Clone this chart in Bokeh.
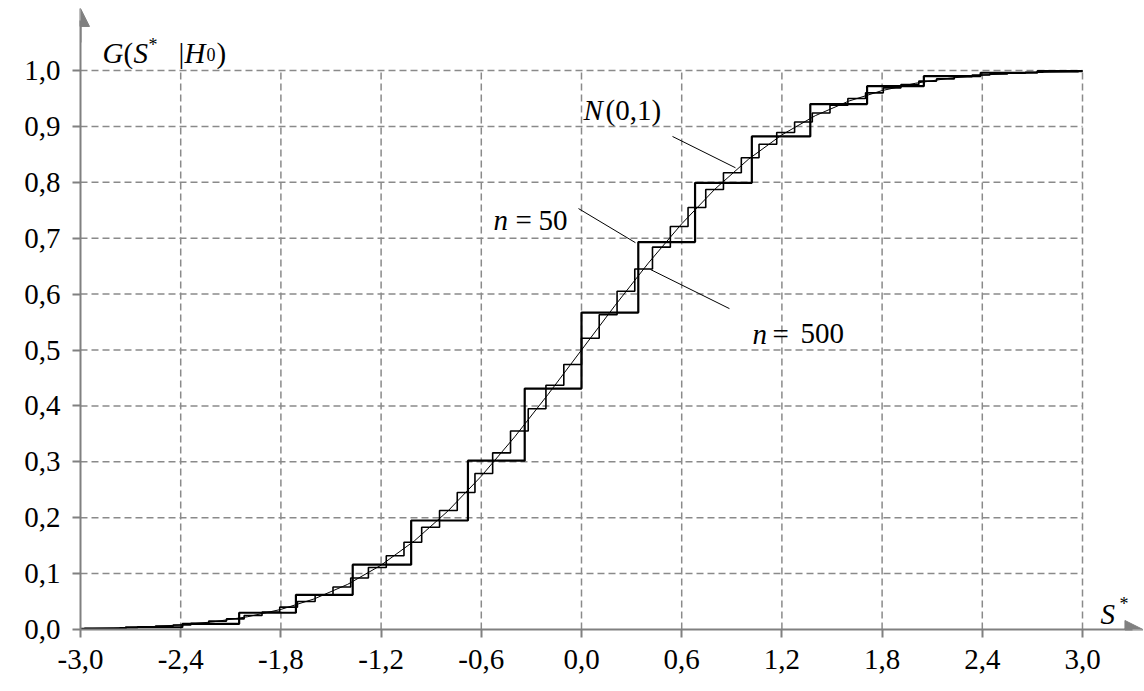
from bokeh.plotting import figure
from bokeh.models import Range1d, FixedTicker, CustomJSTickFormatter, Arrow, NormalHead
from bokeh.core.properties import value
from bokeh.embed import file_html
from bokeh.resources import INLINE

# ---------------- data ----------------
x_ticks = [-3.0, -2.4, -1.8, -1.2, -0.6, 0.0, 0.6, 1.2, 1.8, 2.4, 3.0]
y_ticks = [0.0, 0.1, 0.2, 0.3, 0.4, 0.5, 0.6, 0.7, 0.8, 0.9, 1.0]

# standard normal CDF N(0,1)
normal_x = [-3.0, -2.8, -2.6, -2.4, -2.2, -2.0, -1.8, -1.6, -1.4, -1.2, -1.0,
            -0.8, -0.6, -0.4, -0.2, 0.0, 0.2, 0.4, 0.6, 0.8, 1.0,
            1.2, 1.4, 1.6, 1.8, 2.0, 2.2, 2.4, 2.6, 2.8, 3.0]
normal_G = [0.0013, 0.0026, 0.0047, 0.0082, 0.0139, 0.0228, 0.0359, 0.0548, 0.0808, 0.1151, 0.1587,
            0.2119, 0.2743, 0.3446, 0.4207, 0.5000, 0.5793, 0.6554, 0.7257, 0.7881, 0.8413,
            0.8849, 0.9192, 0.9452, 0.9641, 0.9772, 0.9861, 0.9918, 0.9953, 0.9974, 0.9987]

# empirical distribution, n = 50 (jump positions and level after each jump)
n50_start = 0.001
n50_steps = [-2.73, -2.39, -2.05, -1.71, -1.37, -1.02, -0.68, -0.34, 0.0,
             0.34, 0.68, 1.02, 1.37, 1.71, 2.05, 2.39, 2.73]
n50_levels = [0.004, 0.010, 0.030, 0.062, 0.116, 0.195, 0.302, 0.431, 0.567,
              0.693, 0.799, 0.882, 0.940, 0.972, 0.990, 0.996, 0.999]

# empirical distribution, n = 500
n500_start = 0.001
n500_steps = [-2.976, -2.870, -2.764, -2.658, -2.551, -2.445, -2.339, -2.232, -2.126, -2.020,
              -1.913, -1.807, -1.701, -1.595, -1.488, -1.382, -1.276, -1.169, -1.063, -0.957,
              -0.850, -0.744, -0.638, -0.532, -0.425, -0.319, -0.213, -0.106, 0.0,
              0.106, 0.213, 0.319, 0.425, 0.532, 0.638, 0.744, 0.850, 0.957, 1.063,
              1.169, 1.276, 1.382, 1.488, 1.595, 1.701, 1.807, 1.913, 2.020, 2.126,
              2.232, 2.339, 2.445, 2.551, 2.658, 2.764, 2.870, 2.976]
n500_levels = [0.002, 0.002, 0.003, 0.005, 0.006, 0.008, 0.011, 0.015, 0.019, 0.025,
               0.031, 0.040, 0.050, 0.062, 0.076, 0.092, 0.111, 0.132, 0.156, 0.183,
               0.213, 0.245, 0.279, 0.316, 0.355, 0.395, 0.437, 0.474, 0.521,
               0.563, 0.605, 0.645, 0.684, 0.721, 0.755, 0.787, 0.817, 0.844, 0.868,
               0.889, 0.908, 0.924, 0.938, 0.950, 0.960, 0.969, 0.975, 0.981, 0.985,
               0.989, 0.992, 0.994, 0.995, 0.997, 0.998, 0.998, 0.999]

# ---------------- layout ----------------
W, H = 1144, 691
LEFT, BOTTOM = 80, 62
PX_X = 167.0   # pixels per unit of S*
PX_Y = 559.0   # pixels per unit of G
x_end = x_ticks[0] + (W - LEFT) / PX_X
y_end = (H - BOTTOM) / PX_Y

FONT_NAME = "Liberation Serif"
FONT = value(FONT_NAME)
GREY = "#808080"
GRID = "#8a8a8a"

p = figure(width=W, height=H, x_range=Range1d(x_ticks[0], x_end), y_range=Range1d(0, y_end),
           output_backend="svg", toolbar_location=None,
           min_border_left=LEFT, min_border_right=0, min_border_top=0, min_border_bottom=BOTTOM,
           background_fill_color="white", border_fill_color="white", outline_line_color=None)
p.xgrid.visible = False
p.ygrid.visible = False

fmt = CustomJSTickFormatter(code="return tick.toFixed(1).replace('.', ',');")
for ax, ticks in ((p.xaxis[0], x_ticks), (p.yaxis[0], y_ticks)):
    ax.ticker = FixedTicker(ticks=ticks)
    ax.formatter = fmt
    ax.axis_line_color = GREY
    ax.axis_line_width = 2
    ax.major_tick_line_color = GREY
    ax.major_tick_line_width = 2
    ax.major_tick_out = 8
    ax.major_tick_in = 0
    ax.minor_tick_line_color = None
    ax.major_label_text_font = FONT_NAME
    ax.major_label_text_font_size = "29px"
    ax.major_label_text_color = "black"
p.xaxis[0].major_label_standoff = 12
p.yaxis[0].major_label_standoff = 12
p.xaxis[0].bounds = (x_ticks[0], 3.30)
p.yaxis[0].bounds = (0, 1.09)

# dashed grid limited to the data area
p.segment(x0=x_ticks[1:], y0=[y_ticks[0]] * (len(x_ticks) - 1),
          x1=x_ticks[1:], y1=[y_ticks[-1]] * (len(x_ticks) - 1),
          line_color=GRID, line_width=1.5, line_dash="7 4")
p.segment(x0=[x_ticks[0]] * (len(y_ticks) - 1), y0=y_ticks[1:],
          x1=[x_ticks[-1]] * (len(y_ticks) - 1), y1=y_ticks[1:],
          line_color=GRID, line_width=1.5, line_dash="7 4")

# axis arrow heads
p.add_layout(Arrow(end=NormalHead(size=18, fill_color=GREY, line_color=GREY, line_width=1),
                   x_start=x_ticks[0], y_start=1.05, x_end=x_ticks[0], y_end=1.111,
                   line_color=GREY, line_width=2))
p.add_layout(Arrow(end=NormalHead(size=18, fill_color=GREY, line_color=GREY, line_width=1),
                   x_start=3.25, y_start=0, x_end=3.362, y_end=0,
                   line_color=GREY, line_width=2))

# curves
xs500 = [x_ticks[0]] + n500_steps + [x_ticks[-1]]
ys500 = [n500_start] + n500_levels + [n500_levels[-1]]
p.step(xs500, ys500, mode="after", line_color="black", line_width=1.6)

xs50 = [x_ticks[0]] + n50_steps + [x_ticks[-1]]
ys50 = [n50_start] + n50_levels + [n50_levels[-1]]
p.step(xs50, ys50, mode="after", line_color="black", line_width=2.2)

p.line(normal_x, normal_G, line_color="black", line_width=1)

# leader lines
p.segment(x0=[0.545, -0.018, 0.413], y0=[0.882, 0.753, 0.644],
          x1=[0.922, 0.323, 0.886], y1=[0.826, 0.692, 0.574],
          line_color="black", line_width=1)

# italic pieces
p.text(x=[0.012, -0.527, 1.024, 3.108, -2.868, -2.683, -2.377],
       y=[0.930, 0.732, 0.5295, 0.0286, 1.032, 1.032, 1.032],
       text=["N", "n", "n", "S", "G", "S", "H"],
       text_font=FONT, text_font_size="29px", text_font_style="italic",
       text_color="black", text_align="left", text_baseline="alphabetic")
# upright pieces
p.text(x=[0.144, -0.395, -0.257, 1.144, 1.311, -2.743, -2.413, -2.186],
       y=[0.930, 0.732, 0.732, 0.5295, 0.5295, 1.032, 1.032, 1.032],
       text=["(0,1)", "=", "50", "=", "500", "(", "|", ")"],
       text_font=FONT, text_font_size="29px", text_font_style="normal",
       text_color="black", text_align="left", text_baseline="alphabetic")
# small pieces (superscripts / subscript)
p.text(x=[3.222, -2.593, -2.246],
       y=[0.0465, 1.0465, 1.0286],
       text=["*", "*", "0"],
       text_font=FONT, text_font_size="18px", text_font_style="normal",
       text_color="black", text_align="left", text_baseline="alphabetic")

open("out.html", "w").write(file_html(p, INLINE))
